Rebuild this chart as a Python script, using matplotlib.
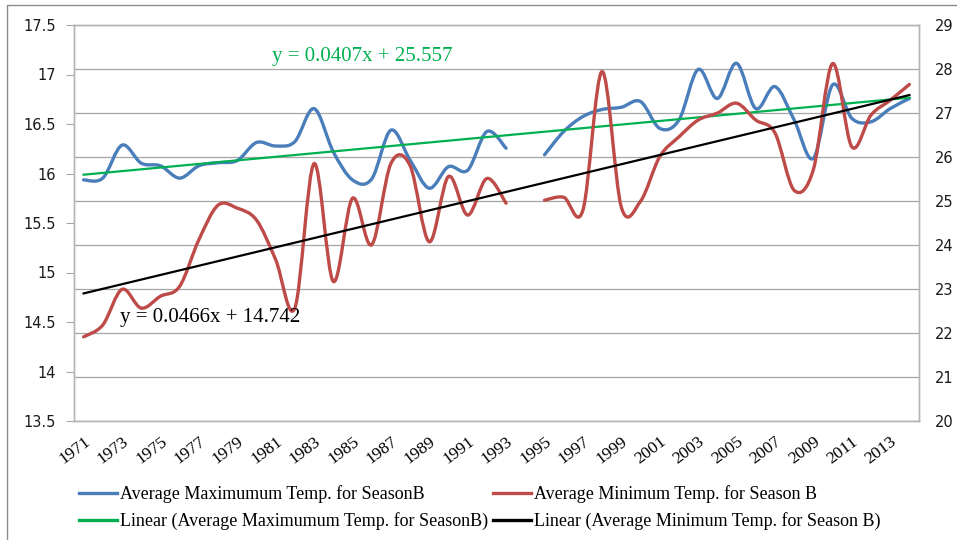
import numpy as np
import matplotlib.pyplot as plt
from matplotlib.path import Path
from matplotlib.patches import PathPatch, Rectangle
from matplotlib.lines import Line2D

years = list(range(1971, 2015))

# Season B averages; 1994 has no record
t_max = [25.48, 25.52, 26.27, 25.86, 25.80, 25.52, 25.80, 25.87, 25.92, 26.33,
         26.25, 26.35, 27.10, 26.12, 25.48, 25.50, 26.61, 25.93, 25.29, 25.78,
         25.70, 26.58, 26.20, np.nan, 26.05, 26.58, 26.92, 27.08, 27.13, 27.26,
         26.65, 26.84, 27.99, 27.33, 28.13, 27.10, 27.60, 26.84, 25.97, 27.64,
         26.88, 26.80, 27.10, 27.33]
t_min = [14.35, 14.47, 14.83, 14.64, 14.76, 14.86, 15.33, 15.68, 15.65, 15.53,
         15.13, 14.64, 16.10, 14.91, 15.75, 15.28, 16.10, 16.08, 15.31, 15.97,
         15.58, 15.95, 15.70, np.nan, 15.73, 15.76, 15.63, 17.03, 15.66, 15.72,
         16.17, 16.37, 16.54, 16.61, 16.71, 16.54, 16.41, 15.83, 16.04, 17.11,
         16.27, 16.59, 16.74, 16.90]

# linear trend coefficients (x = 1, 2, ... for each year)
max_slope, max_icpt = 0.0407, 25.557
min_slope, min_icpt = 0.0466, 14.742

left_ticks = [13.5, 14, 14.5, 15, 15.5, 16, 16.5, 17, 17.5]
right_ticks = list(range(20, 30))

lbl_max = "Average Maximumum Temp. for SeasonB"
lbl_min = "Average Minimum Temp. for Season B"

BLUE = "#4a7ebb"
RED = "#be4b48"
GREEN = "#00b050"
GRID = "#a6a6a6"


def smooth_path(x, y):
    """Catmull-Rom style bezier through the points, broken at gaps."""
    x = np.asarray(x, float)
    y = np.asarray(y, float)
    idx = np.flatnonzero(~np.isnan(y))
    runs = np.split(idx, np.flatnonzero(np.diff(idx) > 1) + 1)
    verts, codes = [], []
    for run in runs:
        p = np.column_stack([x[run], y[run]])
        n = len(p)
        verts.append(p[0])
        codes.append(Path.MOVETO)
        for i in range(n - 1):
            p0 = p[max(i - 1, 0)]
            p3 = p[min(i + 2, n - 1)]
            c1 = p[i] + (p[i + 1] - p0) / 6
            c2 = p[i + 1] - (p3 - p[i]) / 6
            verts += [c1, c2, p[i + 1]]
            codes += [Path.CURVE4] * 3
    return Path(verts, codes)


serif = "Liberation Serif"
sans = "DejaVu Sans"

fig = plt.figure(figsize=(9.57, 5.4), dpi=100)
fig.patches.append(Rectangle((7 / 957, -0.05), 1.1, 1 - 5 / 540 + 0.05,
                             transform=fig.transFigure, fill=False,
                             edgecolor="#8c8c8c", linewidth=1))

ax = fig.add_axes([74 / 957, 1 - 421 / 540, (919 - 74) / 957, (421 - 25) / 540])
ax2 = ax.twinx()
ax.set_zorder(ax2.get_zorder() + 1)
ax.patch.set_visible(False)

xs = np.arange(len(years))
trend_x = xs + 1

# right axis: grid, max temperature and its trend
ax2.add_patch(PathPatch(smooth_path(xs, t_max), fill=False, edgecolor=BLUE,
                        linewidth=2.4, capstyle="round", joinstyle="round"))
ax2.plot(xs, max_icpt + max_slope * trend_x, color=GREEN, linewidth=1.6)
ax2.set_ylim(20, 29)
ax2.set_yticks(right_ticks)
ax2.yaxis.grid(True, color=GRID, linewidth=0.9)
ax2.set_axisbelow(True)
ax2.tick_params(axis="y", length=0, pad=11.5, labelsize=10.5, labelcolor="#1a1a1a")
for lab in ax2.get_yticklabels():
    lab.set_fontfamily(sans)

# left axis: min temperature and its trend
ax.add_patch(PathPatch(smooth_path(xs, t_min), fill=False, edgecolor=RED,
                       linewidth=2.4, capstyle="round", joinstyle="round"))
ax.plot(xs, min_icpt + min_slope * trend_x, color="black", linewidth=1.6)
ax.set_ylim(13.5, 17.5)
ax.set_yticks(left_ticks, [f"{v:g}" for v in left_ticks],
              fontfamily=sans, fontsize=10.5, color="#1a1a1a")
ax.tick_params(axis="y", length=6, color=GRID, pad=7)

ax.set_xlim(-0.5, len(years) - 0.5)
ax.set_xticks(xs[::2], [str(y) for y in years[::2]], rotation=37, ha="right",
              rotation_mode="anchor", fontfamily=serif, fontsize=12.5)
ax.tick_params(axis="x", length=0, pad=9)

for a in (ax, ax2):
    for s in a.spines.values():
        s.set_color("#b5b5b5")
        s.set_linewidth(1)

ax.text(9.8, 17.18, f"y = {max_slope}x + {max_icpt}", color=GREEN,
        fontfamily=serif, fontsize=15, va="center", ha="left")
ax.text(1.9, 14.55, f"y = {min_slope}x + {min_icpt}", color="black",
        fontfamily=serif, fontsize=15, va="center", ha="left")

handles = [Line2D([], [], color=BLUE, lw=2.4),
           Line2D([], [], color=GREEN, lw=2.4),
           Line2D([], [], color=RED, lw=2.4),
           Line2D([], [], color="black", lw=2.4)]
labels = [lbl_max, f"Linear ({lbl_max})", lbl_min, f"Linear ({lbl_min})"]
fig.legend(handles, labels, ncol=2, loc="upper left",
           bbox_to_anchor=(72 / 957, 1 - 478 / 540), frameon=False,
           borderaxespad=0, prop={"family": serif, "size": 13},
           handlelength=2.1, handletextpad=0.15, columnspacing=0.3,
           labelspacing=0.5)

fig.savefig("out.png", dpi=100)
